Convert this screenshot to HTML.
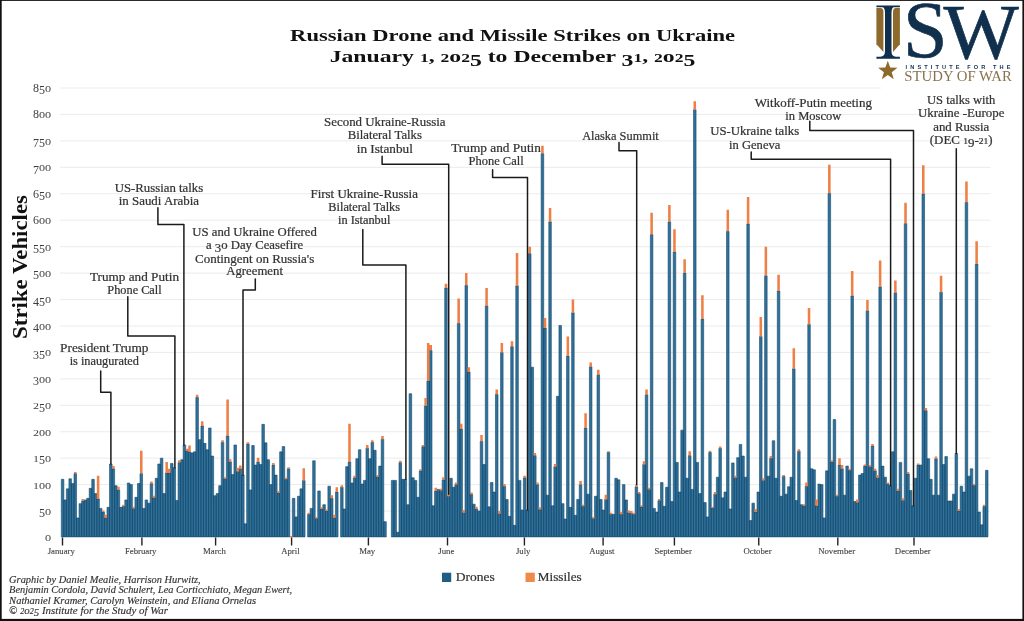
<!DOCTYPE html><html><head><meta charset="utf-8"><style>html,body{margin:0;padding:0;background:#fff;width:1024px;height:621px;overflow:hidden;}svg{display:block;will-change:transform;}</style></head><body>
<svg width="1024" height="621" viewBox="0 0 1024 621" font-family="Liberation Serif, serif">
<rect x="0" y="0" width="1024" height="621" fill="#fff"/>
<line x1="60" x2="990.3" y1="511.06" y2="511.06" stroke="#e9e9e9" stroke-width="0.9"/>
<line x1="60" x2="990.3" y1="484.62" y2="484.62" stroke="#e9e9e9" stroke-width="0.9"/>
<line x1="60" x2="990.3" y1="458.18" y2="458.18" stroke="#e9e9e9" stroke-width="0.9"/>
<line x1="60" x2="990.3" y1="431.74" y2="431.74" stroke="#e9e9e9" stroke-width="0.9"/>
<line x1="60" x2="990.3" y1="405.30" y2="405.30" stroke="#e9e9e9" stroke-width="0.9"/>
<line x1="60" x2="990.3" y1="378.86" y2="378.86" stroke="#e9e9e9" stroke-width="0.9"/>
<line x1="60" x2="990.3" y1="352.42" y2="352.42" stroke="#e9e9e9" stroke-width="0.9"/>
<line x1="60" x2="990.3" y1="325.98" y2="325.98" stroke="#e9e9e9" stroke-width="0.9"/>
<line x1="60" x2="990.3" y1="299.54" y2="299.54" stroke="#e9e9e9" stroke-width="0.9"/>
<line x1="60" x2="990.3" y1="273.10" y2="273.10" stroke="#e9e9e9" stroke-width="0.9"/>
<line x1="60" x2="990.3" y1="246.66" y2="246.66" stroke="#e9e9e9" stroke-width="0.9"/>
<line x1="60" x2="990.3" y1="220.22" y2="220.22" stroke="#e9e9e9" stroke-width="0.9"/>
<line x1="60" x2="990.3" y1="193.78" y2="193.78" stroke="#e9e9e9" stroke-width="0.9"/>
<line x1="60" x2="990.3" y1="167.34" y2="167.34" stroke="#e9e9e9" stroke-width="0.9"/>
<line x1="60" x2="990.3" y1="140.90" y2="140.90" stroke="#e9e9e9" stroke-width="0.9"/>
<line x1="60" x2="990.3" y1="114.46" y2="114.46" stroke="#e9e9e9" stroke-width="0.9"/>
<line x1="60" x2="990.3" y1="88.02" y2="88.02" stroke="#e9e9e9" stroke-width="0.9"/>
<text x="45.00" y="541.40" font-size="12.2" fill="#3d3d3d">o</text>
<text x="39.00" y="517.26" font-size="12" fill="#3d3d3d">5</text>
<text x="45.00" y="514.96" font-size="12.2" fill="#3d3d3d">o</text>
<text transform="translate(33.00,488.52) scale(1,0.72)" font-size="12" fill="#3d3d3d">1</text>
<text x="39.00" y="488.52" font-size="12.2" fill="#3d3d3d">o</text>
<text x="45.00" y="488.52" font-size="12.2" fill="#3d3d3d">o</text>
<text transform="translate(33.00,462.08) scale(1,0.72)" font-size="12" fill="#3d3d3d">1</text>
<text x="39.00" y="464.38" font-size="12" fill="#3d3d3d">5</text>
<text x="45.00" y="462.08" font-size="12.2" fill="#3d3d3d">o</text>
<text transform="translate(33.00,435.64) scale(1,0.72)" font-size="12" fill="#3d3d3d">2</text>
<text x="39.00" y="435.64" font-size="12.2" fill="#3d3d3d">o</text>
<text x="45.00" y="435.64" font-size="12.2" fill="#3d3d3d">o</text>
<text transform="translate(33.00,409.20) scale(1,0.72)" font-size="12" fill="#3d3d3d">2</text>
<text x="39.00" y="411.50" font-size="12" fill="#3d3d3d">5</text>
<text x="45.00" y="409.20" font-size="12.2" fill="#3d3d3d">o</text>
<text x="33.00" y="385.06" font-size="12" fill="#3d3d3d">3</text>
<text x="39.00" y="382.76" font-size="12.2" fill="#3d3d3d">o</text>
<text x="45.00" y="382.76" font-size="12.2" fill="#3d3d3d">o</text>
<text x="33.00" y="358.62" font-size="12" fill="#3d3d3d">3</text>
<text x="39.00" y="358.62" font-size="12" fill="#3d3d3d">5</text>
<text x="45.00" y="356.32" font-size="12.2" fill="#3d3d3d">o</text>
<text x="33.00" y="332.18" font-size="12" fill="#3d3d3d">4</text>
<text x="39.00" y="329.88" font-size="12.2" fill="#3d3d3d">o</text>
<text x="45.00" y="329.88" font-size="12.2" fill="#3d3d3d">o</text>
<text x="33.00" y="305.74" font-size="12" fill="#3d3d3d">4</text>
<text x="39.00" y="305.74" font-size="12" fill="#3d3d3d">5</text>
<text x="45.00" y="303.44" font-size="12.2" fill="#3d3d3d">o</text>
<text x="33.00" y="279.30" font-size="12" fill="#3d3d3d">5</text>
<text x="39.00" y="277.00" font-size="12.2" fill="#3d3d3d">o</text>
<text x="45.00" y="277.00" font-size="12.2" fill="#3d3d3d">o</text>
<text x="33.00" y="252.86" font-size="12" fill="#3d3d3d">5</text>
<text x="39.00" y="252.86" font-size="12" fill="#3d3d3d">5</text>
<text x="45.00" y="250.56" font-size="12.2" fill="#3d3d3d">o</text>
<text x="33.00" y="224.12" font-size="12" fill="#3d3d3d">6</text>
<text x="39.00" y="224.12" font-size="12.2" fill="#3d3d3d">o</text>
<text x="45.00" y="224.12" font-size="12.2" fill="#3d3d3d">o</text>
<text x="33.00" y="197.68" font-size="12" fill="#3d3d3d">6</text>
<text x="39.00" y="199.98" font-size="12" fill="#3d3d3d">5</text>
<text x="45.00" y="197.68" font-size="12.2" fill="#3d3d3d">o</text>
<text x="33.00" y="173.54" font-size="12" fill="#3d3d3d">7</text>
<text x="39.00" y="171.24" font-size="12.2" fill="#3d3d3d">o</text>
<text x="45.00" y="171.24" font-size="12.2" fill="#3d3d3d">o</text>
<text x="33.00" y="147.10" font-size="12" fill="#3d3d3d">7</text>
<text x="39.00" y="147.10" font-size="12" fill="#3d3d3d">5</text>
<text x="45.00" y="144.80" font-size="12.2" fill="#3d3d3d">o</text>
<text x="33.00" y="118.36" font-size="12" fill="#3d3d3d">8</text>
<text x="39.00" y="118.36" font-size="12.2" fill="#3d3d3d">o</text>
<text x="45.00" y="118.36" font-size="12.2" fill="#3d3d3d">o</text>
<text x="33.00" y="91.92" font-size="12" fill="#3d3d3d">8</text>
<text x="39.00" y="94.22" font-size="12" fill="#3d3d3d">5</text>
<text x="45.00" y="91.92" font-size="12.2" fill="#3d3d3d">o</text>
<path d="M61.30 479.33H63.84V536.9H61.30ZM63.84 499.96H66.38V536.9H63.84ZM66.38 488.85H68.92V536.9H66.38ZM68.92 478.80H71.46V536.9H68.92ZM71.46 483.56H74.00V536.9H71.46ZM74.00 473.52H76.53V536.9H74.00ZM76.53 517.93H79.07V536.9H76.53ZM79.07 503.66H81.61V536.9H79.07ZM81.61 501.01H84.15V536.9H81.61ZM84.15 499.96H86.69V536.9H84.15ZM86.69 498.37H89.23V536.9H86.69ZM89.23 488.32H91.77V536.9H89.23ZM91.77 479.33H94.31V536.9H91.77ZM94.31 493.61H96.85V536.9H94.31ZM96.85 498.90H99.39V536.9H96.85ZM99.38 508.42H101.92V536.9H99.38ZM101.92 512.12H104.46V536.9H101.92ZM104.46 517.93H107.00V536.9H104.46ZM107.00 507.36H109.54V536.9H107.00ZM109.54 464.00H112.08V536.9H109.54ZM112.08 468.76H114.62V536.9H112.08ZM114.62 485.68H117.16V536.9H114.62ZM117.16 489.91H119.70V536.9H117.16ZM119.70 507.36H122.24V536.9H119.70ZM122.24 506.30H124.78V536.9H122.24ZM124.78 499.96H127.31V536.9H124.78ZM127.31 483.03H129.85V536.9H127.31ZM129.85 484.62H132.39V536.9H129.85ZM132.39 508.42H134.93V536.9H132.39ZM134.93 497.31H137.47V536.9H134.93ZM137.47 483.56H140.01V536.9H137.47ZM140.01 473.52H142.55V536.9H140.01ZM142.55 508.42H145.09V536.9H142.55ZM145.09 499.96H147.63V536.9H145.09ZM147.63 503.13H150.16V536.9H147.63ZM150.17 483.56H152.70V536.9H150.17ZM152.70 497.84H155.24V536.9H152.70ZM155.24 478.27H157.78V536.9H155.24ZM157.78 464.00H160.32V536.9H157.78ZM160.32 458.18H162.86V536.9H160.32ZM162.86 493.61H165.40V536.9H162.86ZM165.40 472.99H167.94V536.9H165.40ZM167.94 472.99H170.48V536.9H167.94ZM170.48 463.47H173.02V536.9H170.48ZM173.02 467.70H175.56V536.9H173.02ZM175.56 500.48H178.09V536.9H175.56ZM178.09 462.41H180.63V536.9H178.09ZM180.63 459.77H183.17V536.9H180.63ZM183.17 444.96H185.71V536.9H183.17ZM185.71 450.78H188.25V536.9H185.71ZM188.25 451.83H190.79V536.9H188.25ZM190.79 452.89H193.33V536.9H190.79ZM193.33 451.83H195.87V536.9H193.33ZM195.87 397.37H198.41V536.9H195.87ZM198.41 439.67H200.94V536.9H198.41ZM200.94 425.92H203.48V536.9H200.94ZM203.48 443.37H206.02V536.9H203.48ZM206.02 449.72H208.56V536.9H206.02ZM208.56 428.04H211.10V536.9H208.56ZM211.10 456.06H213.64V536.9H211.10ZM213.64 495.72H216.18V536.9H213.64ZM216.18 493.61H218.72V536.9H216.18ZM218.72 485.68H221.26V536.9H218.72ZM221.26 442.32H223.80V536.9H221.26ZM223.80 478.80H226.33V536.9H223.80ZM226.33 435.97H228.87V536.9H226.33ZM228.87 461.88H231.41V536.9H228.87ZM231.41 474.57H233.95V536.9H231.41ZM233.95 444.96H236.49V536.9H233.95ZM236.49 471.40H239.03V536.9H236.49ZM239.03 468.76H241.57V536.9H239.03ZM241.57 475.10H244.11V536.9H241.57ZM244.11 523.75H246.65V536.9H244.11ZM246.65 443.90H249.19V536.9H246.65ZM249.19 489.91H251.73V536.9H249.19ZM251.73 445.49H254.26V536.9H251.73ZM254.26 465.05H256.80V536.9H254.26ZM256.80 461.88H259.34V536.9H256.80ZM259.34 464.53H261.88V536.9H259.34ZM261.88 424.34H264.42V536.9H261.88ZM264.42 442.84H266.96V536.9H264.42ZM266.96 459.77H269.50V536.9H266.96ZM269.50 484.62H272.04V536.9H269.50ZM272.04 465.05H274.58V536.9H272.04ZM274.58 475.10H277.12V536.9H274.58ZM277.12 493.08H279.65V536.9H277.12ZM279.65 451.83H282.19V536.9H279.65ZM282.19 446.55H284.73V536.9H282.19ZM284.73 479.33H287.27V536.9H284.73ZM287.27 468.76H289.81V536.9H287.27ZM292.35 498.37H294.89V536.9H292.35ZM294.89 516.88H297.43V536.9H294.89ZM297.43 496.25H299.97V536.9H297.43ZM299.97 488.85H302.50V536.9H299.97ZM302.50 480.39H305.04V536.9H302.50ZM307.58 514.23H310.12V536.9H307.58ZM310.12 508.42H312.66V536.9H310.12ZM312.66 460.82H315.20V536.9H312.66ZM315.20 518.46H317.74V536.9H315.20ZM317.74 490.97H320.28V536.9H317.74ZM320.28 508.94H322.82V536.9H320.28ZM322.82 504.71H325.36V536.9H322.82ZM325.36 511.06H327.90V536.9H325.36ZM327.90 486.21H330.43V536.9H327.90ZM330.43 498.37H332.97V536.9H330.43ZM332.97 517.93H335.51V536.9H332.97ZM335.51 492.02H338.05V536.9H335.51ZM340.59 487.26H343.13V536.9H340.59ZM343.13 508.94H345.67V536.9H343.13ZM345.67 466.64H348.21V536.9H345.67ZM348.21 461.88H350.75V536.9H348.21ZM350.75 483.03H353.29V536.9H350.75ZM353.29 477.75H355.82V536.9H353.29ZM355.82 458.71H358.36V536.9H355.82ZM358.36 449.72H360.90V536.9H358.36ZM360.90 484.09H363.44V536.9H360.90ZM363.44 480.39H365.98V536.9H363.44ZM365.98 448.13H368.52V536.9H365.98ZM368.52 458.71H371.06V536.9H368.52ZM371.06 442.32H373.60V536.9H371.06ZM373.60 450.25H376.14V536.9H373.60ZM376.14 476.69H378.68V536.9H376.14ZM378.68 466.11H381.21V536.9H378.68ZM381.21 439.14H383.75V536.9H381.21ZM383.75 521.64H386.29V536.9H383.75ZM391.37 480.39H393.91V536.9H391.37ZM393.91 480.39H396.45V536.9H393.91ZM396.45 532.21H398.99V536.9H396.45ZM398.99 462.41H401.53V536.9H398.99ZM401.53 479.33H404.06V536.9H401.53ZM404.07 479.33H406.60V536.9H404.07ZM406.60 504.71H409.14V536.9H406.60ZM409.14 393.67H411.68V536.9H409.14ZM411.68 477.75H414.22V536.9H411.68ZM414.22 480.39H416.76V536.9H414.22ZM416.76 497.31H419.30V536.9H416.76ZM419.30 470.87H421.84V536.9H419.30ZM421.84 446.55H424.38V536.9H421.84ZM424.38 405.83H426.92V536.9H424.38ZM426.92 380.98H429.46V536.9H426.92ZM429.46 350.30H431.99V536.9H429.46ZM431.99 505.77H434.53V536.9H431.99ZM434.53 490.97H437.07V536.9H434.53ZM437.07 489.38H439.61V536.9H437.07ZM439.61 490.44H442.15V536.9H439.61ZM442.15 479.86H444.69V536.9H442.15ZM444.69 287.91H447.23V536.9H444.69ZM447.23 496.25H449.77V536.9H447.23ZM449.77 478.27H452.31V536.9H449.77ZM452.31 487.26H454.85V536.9H452.31ZM454.85 484.62H457.38V536.9H454.85ZM457.38 323.34H459.92V536.9H457.38ZM459.92 429.10H462.46V536.9H459.92ZM462.46 512.65H465.00V536.9H462.46ZM465.00 285.26H467.54V536.9H465.00ZM467.54 371.99H470.08V536.9H467.54ZM470.08 494.14H472.62V536.9H470.08ZM472.62 504.19H475.16V536.9H472.62ZM475.16 508.94H477.70V536.9H475.16ZM477.70 511.06H480.24V536.9H477.70ZM480.24 441.26H482.77V536.9H480.24ZM482.77 464.53H485.31V536.9H482.77ZM485.31 305.89H487.85V536.9H485.31ZM487.85 506.83H490.39V536.9H487.85ZM490.39 482.50H492.93V536.9H490.39ZM492.93 492.02H495.47V536.9H492.93ZM495.47 394.20H498.01V536.9H495.47ZM498.01 513.70H500.55V536.9H498.01ZM500.55 352.42H503.09V536.9H500.55ZM503.09 486.21H505.62V536.9H503.09ZM505.63 499.43H508.16V536.9H505.63ZM508.16 516.35H510.70V536.9H508.16ZM510.70 346.60H513.24V536.9H510.70ZM513.24 525.34H515.78V536.9H513.24ZM515.78 285.79H518.32V536.9H515.78ZM518.32 480.39H520.86V536.9H518.32ZM520.86 510.00H523.40V536.9H520.86ZM523.40 477.75H525.94V536.9H523.40ZM525.94 510.00H528.48V536.9H525.94ZM528.48 253.53H531.01V536.9H528.48ZM531.01 367.23H533.55V536.9H531.01ZM533.55 455.54H536.09V536.9H533.55ZM536.09 484.62H538.63V536.9H536.09ZM538.63 509.47H541.17V536.9H538.63ZM541.17 153.59H543.71V536.9H541.17ZM543.71 328.10H546.25V536.9H543.71ZM546.25 495.20H548.79V536.9H546.25ZM548.79 221.81H551.33V536.9H548.79ZM551.33 505.77H553.87V536.9H551.33ZM553.87 466.64H556.40V536.9H553.87ZM556.40 396.31H558.94V536.9H556.40ZM558.94 325.45H561.48V536.9H558.94ZM561.48 503.66H564.02V536.9H561.48ZM564.02 518.99H566.56V536.9H564.02ZM566.56 356.12H569.10V536.9H566.56ZM569.10 507.36H571.64V536.9H569.10ZM571.64 312.76H574.18V536.9H571.64ZM574.18 515.29H576.72V536.9H574.18ZM576.72 499.43H579.26V536.9H576.72ZM579.26 484.62H581.79V536.9H579.26ZM581.79 506.30H584.33V536.9H581.79ZM584.33 428.04H586.87V536.9H584.33ZM586.87 494.14H589.41V536.9H586.87ZM589.41 366.70H591.95V536.9H589.41ZM591.95 518.46H594.49V536.9H591.95ZM594.49 496.25H597.03V536.9H594.49ZM597.03 374.63H599.57V536.9H597.03ZM599.57 499.43H602.11V536.9H599.57ZM602.11 510.00H604.65V536.9H602.11ZM604.65 499.43H607.18V536.9H604.65ZM607.18 452.36H609.72V536.9H607.18ZM609.72 514.23H612.26V536.9H609.72ZM612.26 514.23H614.80V536.9H612.26ZM614.80 478.27H617.34V536.9H614.80ZM617.34 479.86H619.88V536.9H617.34ZM619.88 514.23H622.42V536.9H619.88ZM622.42 484.62H624.96V536.9H622.42ZM624.96 499.96H627.50V536.9H624.96ZM627.50 512.65H630.04V536.9H627.50ZM630.04 513.18H632.57V536.9H630.04ZM632.57 514.23H635.11V536.9H632.57ZM635.11 486.74H637.65V536.9H635.11ZM637.65 493.61H640.19V536.9H637.65ZM640.19 506.83H642.73V536.9H640.19ZM642.73 464.53H645.27V536.9H642.73ZM645.27 394.72H647.81V536.9H645.27ZM647.81 489.38H650.35V536.9H647.81ZM650.35 234.50H652.89V536.9H650.35ZM652.89 508.42H655.43V536.9H652.89ZM655.43 512.12H657.97V536.9H655.43ZM657.97 500.48H660.50V536.9H657.97ZM660.50 482.50H663.04V536.9H660.50ZM663.04 506.30H665.58V536.9H663.04ZM665.58 487.26H668.12V536.9H665.58ZM668.12 221.81H670.66V536.9H668.12ZM670.66 501.54H673.20V536.9H670.66ZM673.20 251.95H675.74V536.9H673.20ZM675.74 462.41H678.28V536.9H675.74ZM678.28 492.02H680.82V536.9H678.28ZM680.82 430.15H683.36V536.9H680.82ZM683.36 273.10H685.89V536.9H683.36ZM685.89 478.27H688.43V536.9H685.89ZM688.43 455.54H690.97V536.9H688.43ZM690.97 489.38H693.51V536.9H690.97ZM693.51 109.70H696.05V536.9H693.51ZM696.05 462.41H698.59V536.9H696.05ZM698.59 493.61H701.13V536.9H698.59ZM701.13 319.11H703.67V536.9H701.13ZM703.67 502.60H706.21V536.9H703.67ZM706.21 516.88H708.75V536.9H706.21ZM708.75 452.36H711.28V536.9H708.75ZM711.28 507.89H713.82V536.9H711.28ZM713.82 494.14H716.36V536.9H713.82ZM716.36 477.22H718.90V536.9H716.36ZM718.90 448.13H721.44V536.9H718.90ZM721.44 497.84H723.98V536.9H721.44ZM723.98 492.02H726.52V536.9H723.98ZM726.52 231.32H729.06V536.9H726.52ZM729.06 508.94H731.60V536.9H729.06ZM731.60 462.94H734.13V536.9H731.60ZM734.13 477.75H736.67V536.9H734.13ZM736.67 457.65H739.21V536.9H736.67ZM739.21 444.43H741.75V536.9H739.21ZM741.75 456.06H744.29V536.9H741.75ZM744.29 477.22H746.83V536.9H744.29ZM746.83 223.92H749.37V536.9H746.83ZM749.37 520.58H751.91V536.9H749.37ZM751.91 503.13H754.45V536.9H751.91ZM754.45 512.12H756.99V536.9H754.45ZM756.99 492.02H759.52V536.9H756.99ZM759.52 336.56H762.06V536.9H759.52ZM762.06 480.39H764.60V536.9H762.06ZM764.60 275.74H767.14V536.9H764.60ZM767.14 476.16H769.68V536.9H767.14ZM769.68 458.18H772.22V536.9H769.68ZM772.22 440.73H774.76V536.9H772.22ZM774.76 478.27H777.30V536.9H774.76ZM777.30 291.08H779.84V536.9H777.30ZM779.84 496.25H782.38V536.9H779.84ZM782.38 476.16H784.91V536.9H782.38ZM784.91 494.14H787.45V536.9H784.91ZM787.45 486.74H789.99V536.9H787.45ZM789.99 477.22H792.53V536.9H789.99ZM792.53 368.81H795.07V536.9H792.53ZM795.07 500.48H797.61V536.9H795.07ZM797.61 451.31H800.15V536.9H797.61ZM800.15 504.71H802.69V536.9H800.15ZM802.69 505.77H805.23V536.9H802.69ZM805.23 486.21H807.77V536.9H805.23ZM807.77 324.39H810.30V536.9H807.77ZM810.30 468.76H812.84V536.9H810.30ZM812.84 469.81H815.38V536.9H812.84ZM815.38 505.77H817.92V536.9H815.38ZM817.92 484.09H820.46V536.9H817.92ZM820.46 484.62H823.00V536.9H820.46ZM823.00 517.93H825.54V536.9H823.00ZM825.54 470.87H828.08V536.9H825.54ZM828.08 193.25H830.62V536.9H828.08ZM830.62 461.88H833.16V536.9H830.62ZM833.16 419.58H835.69V536.9H833.16ZM835.70 496.25H838.23V536.9H835.70ZM838.23 465.05H840.77V536.9H838.23ZM840.77 468.76H843.31V536.9H840.77ZM843.31 495.20H845.85V536.9H843.31ZM845.85 466.11H848.39V536.9H845.85ZM848.39 470.34H850.93V536.9H848.39ZM850.93 295.84H853.47V536.9H850.93ZM853.47 501.54H856.01V536.9H853.47ZM856.01 502.60H858.55V536.9H856.01ZM858.55 475.10H861.09V536.9H858.55ZM861.09 473.52H863.62V536.9H861.09ZM863.62 466.11H866.16V536.9H863.62ZM866.16 310.64H868.70V536.9H866.16ZM868.70 466.64H871.24V536.9H868.70ZM871.24 446.02H873.78V536.9H871.24ZM873.78 470.87H876.32V536.9H873.78ZM876.32 477.75H878.86V536.9H876.32ZM878.86 286.85H881.40V536.9H878.86ZM881.40 466.11H883.94V536.9H881.40ZM883.94 477.22H886.48V536.9H883.94ZM886.48 484.09H889.01V536.9H886.48ZM889.01 485.68H891.55V536.9H889.01ZM891.55 451.83H894.09V536.9H891.55ZM894.09 292.67H896.63V536.9H894.09ZM896.63 490.97H899.17V536.9H896.63ZM899.17 462.41H901.71V536.9H899.17ZM901.71 500.48H904.25V536.9H901.71ZM904.25 223.39H906.79V536.9H904.25ZM906.79 474.04H909.33V536.9H906.79ZM909.33 490.44H911.87V536.9H909.33ZM911.87 505.77H914.40V536.9H911.87ZM914.40 478.27H916.94V536.9H914.40ZM916.94 465.05H919.48V536.9H916.94ZM919.48 465.05H922.02V536.9H919.48ZM922.02 193.78H924.56V536.9H922.02ZM924.56 410.59H927.10V536.9H924.56ZM927.10 458.71H929.64V536.9H927.10ZM929.64 479.33H932.18V536.9H929.64ZM932.18 495.20H934.72V536.9H932.18ZM934.72 458.71H937.25V536.9H934.72ZM937.25 495.20H939.79V536.9H937.25ZM939.79 292.14H942.33V536.9H939.79ZM942.33 464.53H944.87V536.9H942.33ZM944.87 456.59H947.41V536.9H944.87ZM947.41 501.01H949.95V536.9H947.41ZM949.95 501.01H952.49V536.9H949.95ZM952.49 494.14H955.03V536.9H952.49ZM955.03 453.42H957.57V536.9H955.03ZM957.57 511.06H960.11V536.9H957.57ZM960.11 486.21H962.64V536.9H960.11ZM962.64 492.02H965.18V536.9H962.64ZM965.18 202.24H967.72V536.9H965.18ZM967.72 476.16H970.26V536.9H967.72ZM970.26 468.76H972.80V536.9H970.26ZM972.80 485.15H975.34V536.9H972.80ZM975.34 264.11H977.88V536.9H975.34ZM977.88 512.12H980.42V536.9H977.88ZM980.42 524.81H982.96V536.9H980.42ZM982.96 506.30H985.50V536.9H982.96ZM985.50 470.34H988.03V536.9H985.50Z" fill="#32709a" stroke="#134b6d" stroke-width="0.6"/>
<path d="M74.00 471.93H76.53V473.52H74.00ZM81.61 498.90H84.15V501.01H81.61ZM96.85 475.63H99.39V498.90H96.85ZM101.92 510.53H104.46V512.12H101.92ZM104.46 514.76H107.00V517.93H104.46ZM112.08 466.11H114.62V468.76H112.08ZM117.16 486.74H119.70V489.91H117.16ZM122.24 504.71H124.78V506.30H122.24ZM132.39 506.83H134.93V508.42H132.39ZM140.01 450.78H142.55V473.52H140.01ZM150.17 481.45H152.70V483.56H150.17ZM152.70 495.72H155.24V497.84H152.70ZM165.40 461.88H167.94V472.99H165.40ZM167.94 468.76H170.48V472.99H167.94ZM178.09 460.30H180.63V462.41H178.09ZM185.71 448.66H188.25V450.78H185.71ZM188.25 445.49H190.79V451.83H188.25ZM195.87 394.72H198.41V397.37H195.87ZM200.94 421.16H203.48V425.92H200.94ZM221.26 440.20H223.80V442.32H221.26ZM223.80 477.22H226.33V478.80H223.80ZM226.33 399.48H228.87V435.97H226.33ZM228.87 459.24H231.41V461.88H228.87ZM236.49 467.70H239.03V471.40H236.49ZM239.03 465.58H241.57V468.76H239.03ZM246.65 442.32H249.19V443.90H246.65ZM256.80 457.65H259.34V461.88H256.80ZM272.04 462.94H274.58V465.05H272.04ZM277.12 490.97H279.65V493.08H277.12ZM284.73 477.75H287.27V479.33H284.73ZM287.27 467.17H289.81V468.76H287.27ZM289.81 535.91H292.35V537.50H289.81ZM302.50 468.23H305.04V480.39H302.50ZM307.58 512.65H310.12V514.23H307.58ZM315.20 516.88H317.74V518.46H315.20ZM320.28 507.36H322.82V508.94H320.28ZM325.36 509.47H327.90V511.06H325.36ZM330.43 495.20H332.97V498.37H330.43ZM332.97 514.76H335.51V517.93H332.97ZM335.51 487.26H338.05V492.02H335.51ZM340.59 485.15H343.13V487.26H340.59ZM348.21 423.81H350.75V461.88H348.21ZM353.29 475.63H355.82V477.75H353.29ZM365.98 444.96H368.52V448.13H365.98ZM371.06 440.20H373.60V442.32H371.06ZM376.14 475.10H378.68V476.69H376.14ZM381.21 435.97H383.75V439.14H381.21ZM398.99 460.82H401.53V462.41H398.99ZM419.30 469.28H421.84V470.87H419.30ZM421.84 444.96H424.38V446.55H421.84ZM424.38 397.90H426.92V405.83H424.38ZM426.92 342.90H429.46V380.98H426.92ZM429.46 345.02H431.99V350.30H429.46ZM434.53 487.79H437.07V490.97H434.53ZM439.61 488.85H442.15V490.44H439.61ZM442.15 477.22H444.69V479.86H442.15ZM444.69 283.68H447.23V287.91H444.69ZM447.23 494.14H449.77V496.25H447.23ZM454.85 482.50H457.38V484.62H454.85ZM457.38 298.48H459.92V323.34H457.38ZM459.92 423.81H462.46V429.10H459.92ZM462.46 510.00H465.00V512.65H462.46ZM465.00 273.10H467.54V285.26H465.00ZM467.54 367.23H470.08V371.99H467.54ZM470.08 492.55H472.62V494.14H470.08ZM475.16 506.83H477.70V508.94H475.16ZM480.24 434.91H482.77V441.26H480.24ZM485.31 287.91H487.85V305.89H485.31ZM495.47 389.44H498.01V394.20H495.47ZM498.01 511.06H500.55V513.70H498.01ZM500.55 342.90H503.09V352.42H500.55ZM503.09 484.09H505.62V486.21H503.09ZM510.70 341.32H513.24V346.60H510.70ZM515.78 253.01H518.32V285.79H515.78ZM523.40 475.63H525.94V477.75H523.40ZM528.48 246.66H531.01V253.53H528.48ZM533.55 452.89H536.09V455.54H533.55ZM536.09 482.50H538.63V484.62H536.09ZM538.63 507.36H541.17V509.47H538.63ZM541.17 145.66H543.71V153.59H541.17ZM543.71 318.05H546.25V328.10H543.71ZM548.79 208.06H551.33V221.81H548.79ZM553.87 464.00H556.40V466.64H553.87ZM566.56 336.56H569.10V356.12H566.56ZM571.64 299.54H574.18V312.76H571.64ZM579.26 480.92H581.79V484.62H579.26ZM581.79 504.71H584.33V506.30H581.79ZM584.33 413.23H586.87V428.04H584.33ZM589.41 362.47H591.95V366.70H589.41ZM591.95 516.88H594.49V518.46H591.95ZM597.03 369.87H599.57V374.63H597.03ZM604.65 494.67H607.18V499.43H604.65ZM607.18 451.31H609.72V452.36H607.18ZM609.72 512.65H612.26V514.23H609.72ZM619.88 512.12H622.42V514.23H619.88ZM627.50 510.53H630.04V512.65H627.50ZM630.04 511.06H632.57V513.18H630.04ZM632.57 512.65H635.11V514.23H632.57ZM635.11 484.62H637.65V486.74H635.11ZM637.65 492.02H640.19V493.61H637.65ZM640.19 505.24H642.73V506.83H640.19ZM642.73 461.35H645.27V464.53H642.73ZM645.27 389.44H647.81V394.72H645.27ZM647.81 487.79H650.35V489.38H647.81ZM650.35 212.82H652.89V234.50H650.35ZM657.97 498.90H660.50V500.48H657.97ZM668.12 204.88H670.66V221.81H668.12ZM673.20 229.21H675.74V251.95H673.20ZM683.36 259.35H685.89V273.10H683.36ZM688.43 451.31H690.97V455.54H688.43ZM693.51 101.24H696.05V109.70H693.51ZM701.13 295.31H703.67V319.11H701.13ZM708.75 450.78H711.28V452.36H708.75ZM711.28 506.83H713.82V507.89H711.28ZM713.82 492.02H716.36V494.14H713.82ZM718.90 446.55H721.44V448.13H718.90ZM726.52 209.64H729.06V231.32H726.52ZM734.13 475.63H736.67V477.75H734.13ZM746.83 196.95H749.37V223.92H746.83ZM754.45 508.94H756.99V512.12H754.45ZM759.52 316.99H762.06V336.56H759.52ZM762.06 478.27H764.60V480.39H762.06ZM764.60 246.66H767.14V275.74H764.60ZM769.68 456.06H772.22V458.18H769.68ZM777.30 274.69H779.84V291.08H777.30ZM782.38 475.10H784.91V476.16H782.38ZM792.53 348.19H795.07V368.81H792.53ZM797.61 449.19H800.15V451.31H797.61ZM802.69 504.19H805.23V505.77H802.69ZM805.23 482.50H807.77V486.21H805.23ZM807.77 308.00H810.30V324.39H807.77ZM815.38 499.43H817.92V505.77H815.38ZM828.08 164.70H830.62V193.25H828.08ZM830.62 460.30H833.16V461.88H830.62ZM835.70 494.67H838.23V496.25H835.70ZM838.23 458.18H840.77V465.05H838.23ZM840.77 465.05H843.31V468.76H840.77ZM848.39 468.76H850.93V470.34H848.39ZM850.93 270.98H853.47V295.84H850.93ZM856.01 499.43H858.55V502.60H856.01ZM863.62 464.53H866.16V466.11H863.62ZM866.16 300.07H868.70V310.64H866.16ZM868.70 465.05H871.24V466.64H868.70ZM871.24 443.90H873.78V446.02H871.24ZM873.78 468.76H876.32V470.87H873.78ZM876.32 475.10H878.86V477.75H876.32ZM878.86 260.41H881.40V286.85H878.86ZM886.48 482.50H889.01V484.09H886.48ZM894.09 280.50H896.63V292.67H894.09ZM896.63 488.85H899.17V490.97H896.63ZM901.71 498.37H904.25V500.48H901.71ZM904.25 202.77H906.79V223.39H904.25ZM906.79 471.93H909.33V474.04H906.79ZM916.94 463.47H919.48V465.05H916.94ZM922.02 165.22H924.56V193.78H922.02ZM924.56 407.94H927.10V410.59H924.56ZM934.72 456.59H937.25V458.71H934.72ZM939.79 275.74H942.33V292.14H939.79ZM957.57 508.94H960.11V511.06H957.57ZM965.18 181.62H967.72V202.24H965.18ZM972.80 484.09H975.34V485.15H972.80ZM975.34 241.37H977.88V264.11H975.34ZM982.96 504.71H985.50V506.30H982.96Z" fill="#ee7f45"/>
<line x1="62.5" x2="62.5" y1="537.5" y2="545.5" stroke="#222" stroke-width="1.4"/>
<text x="61.30" y="554" font-size="8.75" fill="#444" stroke="#444" stroke-width="0.12" text-anchor="middle">January</text>
<line x1="141.9" x2="141.9" y1="537.5" y2="545.5" stroke="#222" stroke-width="1.4"/>
<text x="140.70" y="554" font-size="8.75" fill="#444" stroke="#444" stroke-width="0.12" text-anchor="middle">February</text>
<line x1="215.6" x2="215.6" y1="537.5" y2="545.5" stroke="#222" stroke-width="1.4"/>
<text x="214.40" y="554" font-size="8.75" fill="#444" stroke="#444" stroke-width="0.12" text-anchor="middle">March</text>
<line x1="291.6" x2="291.6" y1="537.5" y2="545.5" stroke="#222" stroke-width="1.4"/>
<text x="290.40" y="554" font-size="8.75" fill="#444" stroke="#444" stroke-width="0.12" text-anchor="middle">April</text>
<line x1="368.4" x2="368.4" y1="537.5" y2="545.5" stroke="#222" stroke-width="1.4"/>
<text x="367.20" y="554" font-size="8.75" fill="#444" stroke="#444" stroke-width="0.12" text-anchor="middle">May</text>
<line x1="447.5" x2="447.5" y1="537.5" y2="545.5" stroke="#222" stroke-width="1.4"/>
<text x="446.30" y="554" font-size="8.75" fill="#444" stroke="#444" stroke-width="0.12" text-anchor="middle">June</text>
<line x1="524.4" x2="524.4" y1="537.5" y2="545.5" stroke="#222" stroke-width="1.4"/>
<text x="523.20" y="554" font-size="8.75" fill="#444" stroke="#444" stroke-width="0.12" text-anchor="middle">July</text>
<line x1="603.1" x2="603.1" y1="537.5" y2="545.5" stroke="#222" stroke-width="1.4"/>
<text x="601.90" y="554" font-size="8.75" fill="#444" stroke="#444" stroke-width="0.12" text-anchor="middle">August</text>
<line x1="674.4" x2="674.4" y1="537.5" y2="545.5" stroke="#222" stroke-width="1.4"/>
<text x="673.20" y="554" font-size="8.75" fill="#444" stroke="#444" stroke-width="0.12" text-anchor="middle">September</text>
<line x1="758.75" x2="758.75" y1="537.5" y2="545.5" stroke="#222" stroke-width="1.4"/>
<text x="757.55" y="554" font-size="8.75" fill="#444" stroke="#444" stroke-width="0.12" text-anchor="middle">October</text>
<line x1="837.8" x2="837.8" y1="537.5" y2="545.5" stroke="#222" stroke-width="1.4"/>
<text x="836.60" y="554" font-size="8.75" fill="#444" stroke="#444" stroke-width="0.12" text-anchor="middle">November</text>
<line x1="914" x2="914" y1="537.5" y2="545.5" stroke="#222" stroke-width="1.4"/>
<text x="912.80" y="554" font-size="8.75" fill="#444" stroke="#444" stroke-width="0.12" text-anchor="middle">December</text>
<text x="512.6" y="41.2" font-size="17.5" font-weight="bold" fill="#111" text-anchor="middle" textLength="445" lengthAdjust="spacingAndGlyphs">Russian Drone and Missile Strikes on Ukraine</text>
<text x="512.5" y="62.4" font-size="17.5" font-weight="bold" fill="#111" text-anchor="middle" textLength="365.7" lengthAdjust="spacingAndGlyphs">January <tspan font-size="12.95">1</tspan>, <tspan font-size="12.95">2</tspan>o<tspan font-size="12.95">2</tspan><tspan dy="3.33">5</tspan><tspan dy="-3.33"> </tspan>to December <tspan dy="3.33">3</tspan><tspan font-size="12.95" dy="-3.33">1</tspan>, <tspan font-size="12.95">2</tspan>o<tspan font-size="12.95">2</tspan><tspan dy="3.33">5</tspan><tspan dy="-3.33"></tspan></text>
<text transform="translate(27.4,267) rotate(-90)" font-size="21" font-weight="bold" fill="#111" text-anchor="middle" textLength="143.8" lengthAdjust="spacingAndGlyphs">Strike Vehicles</text>
<text x="104.3" y="351.7" font-size="12.3" fill="#333" stroke="#333" stroke-width="0.22" text-anchor="middle" textLength="88.4" lengthAdjust="spacingAndGlyphs">President Trump</text>
<text x="104.3" y="364.5" font-size="12.3" fill="#333" stroke="#333" stroke-width="0.22" text-anchor="middle">is inaugurated</text>
<polyline fill="none" stroke="#1a1a1a" stroke-width="1.5" stroke-linejoin="round" stroke-linecap="round" points="100.7,371 100.7,392.3 110.9,392.3 110.9,463.9968"/>
<text x="134.5" y="280.6" font-size="12.3" fill="#333" stroke="#333" stroke-width="0.22" text-anchor="middle" textLength="89" lengthAdjust="spacingAndGlyphs">Trump and Putin</text>
<text x="134.5" y="293.6" font-size="12.3" fill="#333" stroke="#333" stroke-width="0.22" text-anchor="middle">Phone Call</text>
<polyline fill="none" stroke="#1a1a1a" stroke-width="1.5" stroke-linejoin="round" stroke-linecap="round" points="127.8,296.7 127.8,336 174.9,336 174.9,467.6984"/>
<text x="158.9" y="192.0" font-size="12.3" fill="#333" stroke="#333" stroke-width="0.22" text-anchor="middle" textLength="88.5" lengthAdjust="spacingAndGlyphs">US-Russian talks</text>
<text x="158.9" y="205.2" font-size="12.3" fill="#333" stroke="#333" stroke-width="0.22" text-anchor="middle" textLength="80.3" lengthAdjust="spacingAndGlyphs">in Saudi Arabia</text>
<polyline fill="none" stroke="#1a1a1a" stroke-width="1.5" stroke-linejoin="round" stroke-linecap="round" points="157.9,207.7 157.9,224.5 183.9,224.5 183.9,444.96"/>
<text x="254.6" y="236.1" font-size="12.3" fill="#333" stroke="#333" stroke-width="0.22" text-anchor="middle" textLength="124.5" lengthAdjust="spacingAndGlyphs">US and Ukraine Offered</text>
<text x="254.6" y="249.4" font-size="12.3" fill="#333" stroke="#333" stroke-width="0.22" text-anchor="middle" textLength="97.3" lengthAdjust="spacingAndGlyphs">a <tspan dy="2.34">3</tspan><tspan dy="-2.34">o</tspan> Day Ceasefire</text>
<text x="254.6" y="262.7" font-size="12.3" fill="#333" stroke="#333" stroke-width="0.22" text-anchor="middle" textLength="119.2" lengthAdjust="spacingAndGlyphs">Contingent on Russia's</text>
<text x="254.6" y="275.2" font-size="12.3" fill="#333" stroke="#333" stroke-width="0.22" text-anchor="middle" textLength="56.7" lengthAdjust="spacingAndGlyphs">Agreement</text>
<polyline fill="none" stroke="#1a1a1a" stroke-width="1.5" stroke-linejoin="round" stroke-linecap="round" points="255.3,279 255.3,290 243,290 243,475.1016"/>
<text x="364.2" y="197.6" font-size="12.3" fill="#333" stroke="#333" stroke-width="0.22" text-anchor="middle" textLength="107.4" lengthAdjust="spacingAndGlyphs">First Ukraine-Russia</text>
<text x="364.2" y="210.8" font-size="12.3" fill="#333" stroke="#333" stroke-width="0.22" text-anchor="middle">Bilateral Talks</text>
<text x="364.2" y="224.4" font-size="12.3" fill="#333" stroke="#333" stroke-width="0.22" text-anchor="middle">in Istanbul</text>
<polyline fill="none" stroke="#1a1a1a" stroke-width="1.5" stroke-linejoin="round" stroke-linecap="round" points="362.8,229.6 362.8,265 405.9,265 405.9,479.332"/>
<text x="384.8" y="125.9" font-size="12.3" fill="#333" stroke="#333" stroke-width="0.22" text-anchor="middle" textLength="121.4" lengthAdjust="spacingAndGlyphs">Second Ukraine-Russia</text>
<text x="384.8" y="139.1" font-size="12.3" fill="#333" stroke="#333" stroke-width="0.22" text-anchor="middle" textLength="74.3" lengthAdjust="spacingAndGlyphs">Bilateral Talks</text>
<text x="384.8" y="152.7" font-size="12.3" fill="#333" stroke="#333" stroke-width="0.22" text-anchor="middle" textLength="56.1" lengthAdjust="spacingAndGlyphs">in Istanbul</text>
<polyline fill="none" stroke="#1a1a1a" stroke-width="1.5" stroke-linejoin="round" stroke-linecap="round" points="382.1,156.3 382.1,164.2 448.7,164.2 448.7,494.1384"/>
<text x="496.1" y="151.9" font-size="12.3" fill="#333" stroke="#333" stroke-width="0.22" text-anchor="middle" textLength="89.8" lengthAdjust="spacingAndGlyphs">Trump and Putin</text>
<text x="496.1" y="164.8" font-size="12.3" fill="#333" stroke="#333" stroke-width="0.22" text-anchor="middle" textLength="55" lengthAdjust="spacingAndGlyphs">Phone Call</text>
<polyline fill="none" stroke="#1a1a1a" stroke-width="1.5" stroke-linejoin="round" stroke-linecap="round" points="492.6,169.7 492.6,177.5 527.5,177.5 527.5,510.0024"/>
<text x="620.5" y="139.7" font-size="12.3" fill="#333" stroke="#333" stroke-width="0.22" text-anchor="middle" textLength="76.6" lengthAdjust="spacingAndGlyphs">Alaska Summit</text>
<polyline fill="none" stroke="#1a1a1a" stroke-width="1.5" stroke-linejoin="round" stroke-linecap="round" points="619,142.5 619,150.8 636.7,150.8 636.7,484.62"/>
<text x="754.7" y="135.3" font-size="12.3" fill="#333" stroke="#333" stroke-width="0.22" text-anchor="middle" textLength="89" lengthAdjust="spacingAndGlyphs">US-Ukraine talks</text>
<text x="754.7" y="148.6" font-size="12.3" fill="#333" stroke="#333" stroke-width="0.22" text-anchor="middle" textLength="51.2" lengthAdjust="spacingAndGlyphs">in Geneva</text>
<polyline fill="none" stroke="#1a1a1a" stroke-width="1.5" stroke-linejoin="round" stroke-linecap="round" points="751.2,152.1 751.2,159.2 890.6,159.2 890.6,485.6776"/>
<text x="813.3" y="106.6" font-size="12.3" fill="#333" stroke="#333" stroke-width="0.22" text-anchor="middle" textLength="117.2" lengthAdjust="spacingAndGlyphs">Witkoff-Putin meeting</text>
<text x="813.3" y="119.7" font-size="12.3" fill="#333" stroke="#333" stroke-width="0.22" text-anchor="middle" textLength="56" lengthAdjust="spacingAndGlyphs">in Moscow</text>
<polyline fill="none" stroke="#1a1a1a" stroke-width="1.5" stroke-linejoin="round" stroke-linecap="round" points="809.8,121.3 809.8,130.5 913.5,130.5 913.5,505.772"/>
<text x="961.2" y="104.3" font-size="12.3" fill="#333" stroke="#333" stroke-width="0.22" text-anchor="middle" textLength="68.3" lengthAdjust="spacingAndGlyphs">US talks with</text>
<text x="961.2" y="117.4" font-size="12.3" fill="#333" stroke="#333" stroke-width="0.22" text-anchor="middle" textLength="86.5" lengthAdjust="spacingAndGlyphs">Ukraine -Europe</text>
<text x="961.2" y="131.0" font-size="12.3" fill="#333" stroke="#333" stroke-width="0.22" text-anchor="middle" textLength="56" lengthAdjust="spacingAndGlyphs">and Russia</text>
<text x="961.2" y="144.2" font-size="12.3" fill="#333" stroke="#333" stroke-width="0.22" text-anchor="middle" textLength="62.8" lengthAdjust="spacingAndGlyphs">(DEC <tspan font-size="9.10">1</tspan><tspan dy="2.34">9</tspan><tspan dy="-2.34">-</tspan><tspan font-size="9.10">2</tspan><tspan font-size="9.10">1</tspan>)</text>
<polyline fill="none" stroke="#1a1a1a" stroke-width="1.5" stroke-linejoin="round" stroke-linecap="round" points="956.3,148.7 956.3,453.4208"/>
<rect x="442" y="572.7" width="9.2" height="9.3" fill="#1f5f87"/>
<text x="455.7" y="581.4" font-size="12" fill="#333" stroke="#333" stroke-width="0.2" textLength="39" lengthAdjust="spacingAndGlyphs">Drones</text>
<rect x="525.5" y="572.7" width="9.3" height="9.3" fill="#f08a4b"/>
<text x="537.8" y="581.4" font-size="12" fill="#333" stroke="#333" stroke-width="0.2" textLength="43.9" lengthAdjust="spacingAndGlyphs">Missiles</text>
<text x="9.1" y="582.5" font-size="10" font-style="italic" fill="#333" stroke="#333" stroke-width="0.15" textLength="191.6" lengthAdjust="spacingAndGlyphs">Graphic by Daniel Mealie, Harrison Hurwitz,</text>
<text x="9.1" y="593.0" font-size="10" font-style="italic" fill="#333" stroke="#333" stroke-width="0.15" textLength="283" lengthAdjust="spacingAndGlyphs">Benjamin Cordola, David Schulert, Lea Corticchiato, Megan Ewert,</text>
<text x="9.1" y="603.5" font-size="10" font-style="italic" fill="#333" stroke="#333" stroke-width="0.15" textLength="247" lengthAdjust="spacingAndGlyphs">Nathaniel Kramer, Carolyn Weinstein, and Eliana Ornelas</text>
<text x="9.1" y="614.0" font-size="10" font-style="italic" fill="#333" stroke="#333" stroke-width="0.15" textLength="159" lengthAdjust="spacingAndGlyphs">© <tspan font-size="7.40">2</tspan>o<tspan font-size="7.40">2</tspan><tspan dy="1.90">5</tspan><tspan dy="-1.90"> </tspan>Institute for the Study of War</text>
<rect x="881" y="0" width="142" height="89" fill="#fff"/>
<g id="logo">
<path d="M876.4 8.1H880.4Q883.4 8.3 883.4 12V52L876.4 44.2Z" fill="#8d6a2c"/>
<path d="M899.9 8.1H895.9Q893.0 8.3 893.0 12V52L899.9 44.2Z" fill="#8d6a2c"/>
<path d="M876.4 5.4H899.9V7.3H893.4Q891.5 8.3 891.5 13.3V51.3Q891.5 56.5 895.9 56.8H899.9V58.7H876.4V56.8H880.2Q885.0 56.5 885.0 51.3V13.3Q885.0 8.3 883.0 7.3H876.4Z" fill="#10304d"/>
<text font-size="80" fill="#10304d" stroke="#10304d" stroke-width="0.7" transform="translate(903,57.2) scale(1.0,1)">S</text>
<text font-size="79" fill="#10304d" stroke="#10304d" stroke-width="0.7" transform="translate(943.5,57.6) scale(1.01,1)">W</text>
<polygon points="887.80,60.70 890.21,67.58 897.50,67.75 891.70,72.17 893.80,79.15 887.80,75.00 881.80,79.15 883.90,72.17 878.10,67.75 885.39,67.58" fill="#8d6a2c"/>
<text x="905.6" y="68.9" font-family="Liberation Sans, sans-serif" font-weight="bold" font-size="5.6" fill="#10304d" textLength="104.9" lengthAdjust="spacing">INSTITUTE FOR THE</text>
<text x="904.3" y="80.5" font-size="14" fill="#88724c" textLength="107.6" lengthAdjust="spacingAndGlyphs">STUDY OF WAR</text>
</g>
<rect x="0" y="0" width="1.7" height="621" fill="#111"/><rect x="1022.4" y="0" width="1.6" height="621" fill="#111"/><rect x="0" y="0" width="1024" height="0.9" fill="#111"/><rect x="0" y="618.9" width="1024" height="2.1" fill="#111"/>
</svg></body></html>
